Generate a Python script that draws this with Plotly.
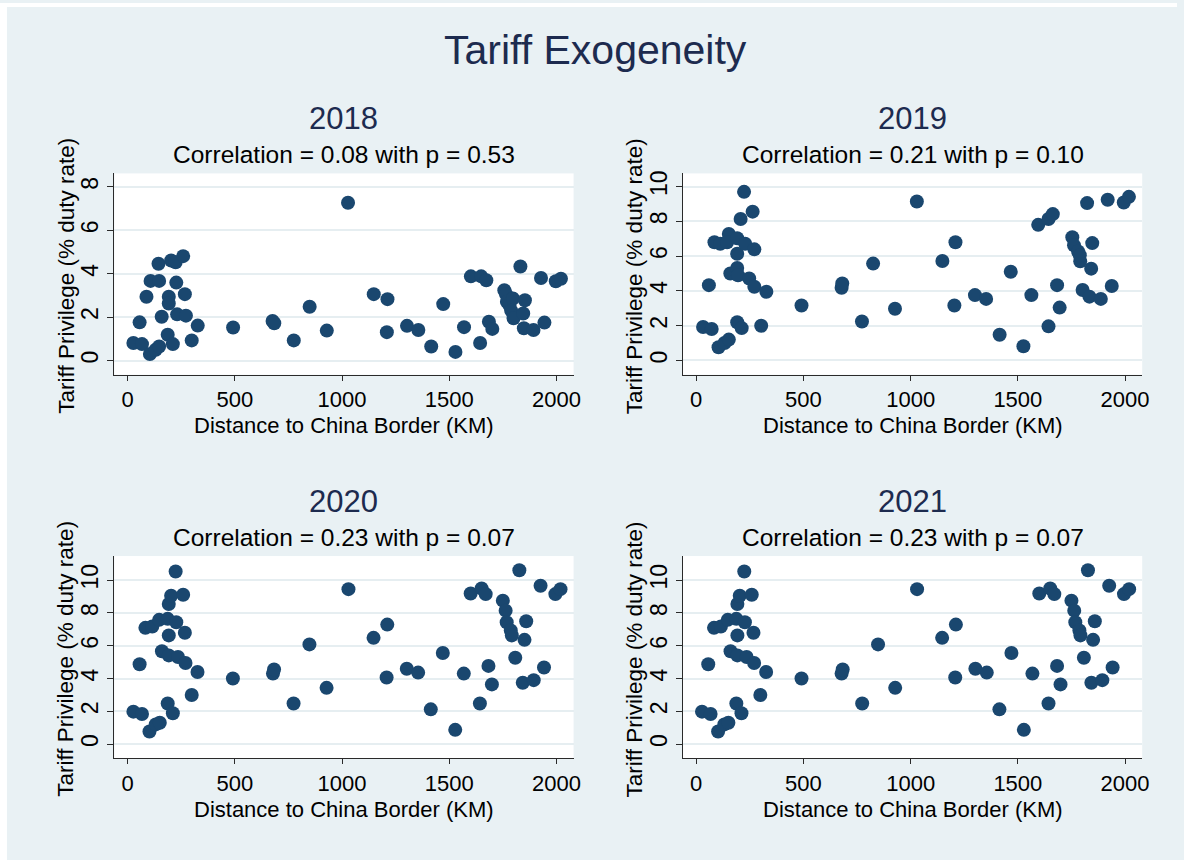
import plotly.graph_objects as go

# ---- data: distance to China border (km) vs tariff privilege (% duty rate) ----
dist_2018 = [27, 67, 56, 88, 104, 107, 147, 144, 131, 147, 159, 187, 192, 192, 203, 224,
             211, 227, 231, 259, 272, 267, 299, 327, 492, 676, 684, 775, 849, 929, 1028,
             1148, 1212, 1209, 1303, 1356, 1416, 1472, 1529, 1569, 1601, 1644, 1649, 1673,
             1685, 1701, 1757, 1765, 1769, 1781, 1797, 1789, 1800, 1832, 1845, 1853, 1848,
             1893, 1928, 1944, 1997, 2021]
tariff_2018 = [0.81, 0.76, 1.76, 2.94, 0.30, 3.67, 3.67, 4.46, 0.50, 0.65, 2.02, 1.19, 2.94,
               2.63, 4.61, 4.53, 0.76, 3.59, 2.13, 4.81, 2.07, 3.06, 0.93, 1.61, 1.52, 1.82,
               1.72, 0.93, 2.48, 1.38, 7.27, 3.06, 2.83, 1.31, 1.60, 1.41, 0.65, 2.60, 0.40,
               1.54, 3.88, 0.81, 3.88, 3.70, 1.79, 1.46, 3.24, 3.06, 2.71, 2.55, 2.86, 2.30,
               1.95, 4.33, 2.17, 2.78, 1.49, 1.41, 3.80, 1.75, 3.65, 3.77]

dist_2019 = [32, 72, 59, 85, 112, 104, 132, 152, 152, 144, 159, 191, 191, 191, 195, 191,
             212, 207, 223, 228, 247, 263, 271, 271, 303, 327, 491, 678, 681, 773, 825, 927,
             1029, 1148, 1209, 1204, 1300, 1352, 1415, 1467, 1526, 1563, 1595, 1643, 1643,
             1663, 1683, 1695, 1754, 1762, 1781, 1791, 1789, 1802, 1823, 1834, 1842, 1847,
             1887, 1919, 1938, 1994, 2018]
tariff_2019 = [1.92, 1.81, 4.33, 6.80, 6.71, 0.76, 1.00, 1.20, 7.28, 6.80, 5.00, 7.03, 6.14,
               5.32, 4.90, 2.20, 1.86, 8.14, 9.70, 6.71, 4.71, 8.56, 6.39, 4.24, 2.00, 3.95,
               3.16, 4.18, 4.43, 2.24, 5.57, 2.97, 9.14, 5.72, 6.80, 3.16, 3.76, 3.54, 1.48,
               5.10, 0.82, 3.76, 7.80, 1.96, 8.14, 8.42, 4.33, 3.04, 7.09, 6.62, 6.27, 5.70,
               6.05, 4.05, 9.05, 3.67, 5.28, 6.75, 3.54, 9.24, 4.28, 9.09, 9.41]

dist_2020 = [27, 67, 56, 83, 115, 102, 131, 150, 147, 160, 187, 192, 192, 192, 187, 211,
             203, 224, 227, 235, 259, 267, 270, 299, 326, 491, 678, 683, 774, 848, 928, 1030,
             1147, 1211, 1208, 1302, 1355, 1414, 1470, 1528, 1568, 1600, 1643, 1651, 1670,
             1683, 1699, 1750, 1763, 1768, 1787, 1792, 1808, 1827, 1843, 1851, 1859, 1894,
             1926, 1942, 1995, 2019]
tariff_2020 = [1.98, 1.84, 4.87, 7.09, 7.17, 0.77, 1.20, 1.30, 7.58, 5.66, 7.64, 8.55, 6.63,
               5.41, 2.48, 1.88, 9.05, 10.53, 7.43, 5.31, 9.11, 6.79, 4.95, 2.99, 4.40, 4.00,
               4.30, 4.55, 2.48, 6.08, 3.43, 9.45, 6.48, 7.29, 4.06, 4.60, 4.36, 2.12, 5.56,
               0.87, 4.30, 9.19, 2.48, 9.49, 9.15, 4.77, 3.64, 8.75, 8.14, 7.43, 6.93, 6.63,
               5.27, 10.60, 3.74, 6.36, 7.49, 3.90, 9.66, 4.67, 9.15, 9.45]

dist_2021 = list(dist_2020)
tariff_2021 = list(tariff_2020)

years = ["2018", "2019", "2020", "2021"]
correlation_notes = ["Correlation = 0.08 with p = 0.53",
                     "Correlation = 0.21 with p = 0.10",
                     "Correlation = 0.23 with p = 0.07",
                     "Correlation = 0.23 with p = 0.07"]
x_title = "Distance to China Border (KM)"
y_title = "Tariff Privilege (% duty rate)"
x_ticks = [0, 500, 1000, 1500, 2000]
y_ticks = [[0, 2, 4, 6, 8], [0, 2, 4, 6, 8, 10], [0, 2, 4, 6, 8, 10], [0, 2, 4, 6, 8, 10]]
y_ranges = [[-0.65, 8.62], [-0.82, 10.76], [-0.87, 11.47], [-0.87, 11.47]]

series = [(dist_2018, tariff_2018), (dist_2019, tariff_2019),
          (dist_2020, tariff_2020), (dist_2021, tariff_2021)]

# ---- styling ----
W, H = 1184, 860
BG = "#e9f1f4"
NAVY = "#1a476f"
TITLE_NAVY = "#1d2b4f"
FONT = "Liberation Sans, Arial, Helvetica, sans-serif"
AXIS_COL = "#2a2a2a"

# panel boxes in pixels: (left, right, top, bottom)
panels = [(115, 577, 171, 373), (687, 1149, 171, 373),
          (115, 577, 555, 758), (687, 1149, 555, 758)]
# vertical pixel positions: year heading, correlation note, x-axis title
text_rows = [(116, 152, 424), (116, 152, 424), (500, 536, 809), (500, 536, 809)]


def px_x(v):
    return v / W


def px_y(v):
    return 1 - v / H


fig = go.Figure()
layout = dict(
    width=W, height=H, autosize=False,
    margin=dict(l=0, r=0, t=0, b=0),
    paper_bgcolor=BG, plot_bgcolor="white",
    font=dict(family=FONT, color="black"),
    showlegend=False,
    annotations=[], shapes=[],
)


def note(text, x, y, size, color="black", angle=0):
    return dict(text=text, x=x, y=y, xref="paper", yref="paper",
                xanchor="center", yanchor="middle", showarrow=False, textangle=angle,
                font=dict(size=size, color=color, family=FONT))


for i, ((xs, ys), (l, r, t, b)) in enumerate(zip(series, panels)):
    n = "" if i == 0 else str(i + 1)
    fig.add_trace(go.Scatter(
        x=xs, y=ys, mode="markers",
        marker=dict(size=14, color=NAVY, line=dict(width=0)),
        xaxis="x" + n, yaxis="y" + n, hoverinfo="x+y",
    ))
    layout["xaxis" + n] = dict(
        domain=[px_x(l), px_x(r)], anchor="y" + n, range=[-62, 2080],
        tickvals=x_ticks, ticks="outside", ticklen=5, tickcolor=AXIS_COL, tickwidth=1,
        showline=True, linecolor=AXIS_COL, linewidth=1, mirror=False,
        showgrid=False, zeroline=False,
        tickfont=dict(size=22, color="black"),
    )
    layout["yaxis" + n] = dict(
        domain=[px_y(b), px_y(t)], anchor="x" + n, range=y_ranges[i],
        tickvals=y_ticks[i], tickangle=-90, ticks="outside", ticklen=6,
        tickcolor=AXIS_COL, tickwidth=1,
        showline=True, linecolor=AXIS_COL, linewidth=1, mirror=False,
        showgrid=True, gridcolor="#e6eef1", gridwidth=1.5, zeroline=False,
        tickfont=dict(size=23, color="black"),
    )
    cx = px_x((l + r) / 2)
    ty, cy, xt = text_rows[i]
    layout["annotations"] += [
        note(years[i], cx, px_y(ty), 31, TITLE_NAVY),
        note(correlation_notes[i], cx, px_y(cy), 24.5),
        note(x_title, cx, px_y(xt), 22),
        note(y_title, px_x(l - 49), px_y((t + b) / 2 + 2), 22.5, angle=-90),
    ]

layout["annotations"].append(note("Tariff Exogeneity", px_x(599), px_y(47), 41, TITLE_NAVY))

# white page strip above and left of the graph region
layout["shapes"] += [
    dict(type="rect", xref="paper", yref="paper", x0=0, x1=1, y0=px_y(4), y1=1,
         fillcolor="white", line=dict(width=0), layer="below"),
    dict(type="rect", xref="paper", yref="paper", x0=0, x1=px_x(7), y0=0, y1=1,
         fillcolor="white", line=dict(width=0), layer="below"),
]

fig.update_layout(**layout)
fig.write_html("out.html")
